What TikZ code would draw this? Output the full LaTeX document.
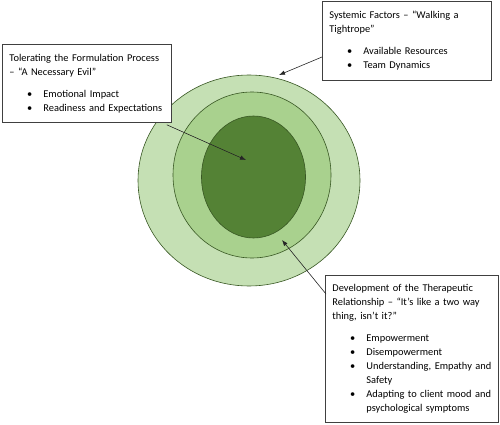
\documentclass[tikz,border=0pt]{standalone}
\usepackage{fontspec}
\setmainfont{Carlito}
\usepackage{enumitem}
\usetikzlibrary{calc}
\usetikzlibrary{arrows.meta}

\definecolor{ringout}{HTML}{C5E0B4}
\definecolor{ringmid}{HTML}{A9D18E}
\definecolor{ringin}{HTML}{548235}
\definecolor{ringedge}{HTML}{385723}
\definecolor{boxgray}{HTML}{404040}

\newcommand{\themelist}[1]{\begin{itemize}[leftmargin=34pt,labelsep=11pt,itemsep=0pt,parsep=0pt,topsep=8pt,partopsep=0pt]#1\end{itemize}}

\tikzset{
  themebox/.style={draw=boxgray, line width=0.8pt, fill=white, anchor=north west,
    inner xsep=7pt, inner ysep=6pt, align=left, font=\fontsize{10.4}{14}\selectfont},
  pointer/.style={draw=black!85, line width=0.6pt, -{Latex[length=6pt,width=4.5pt]}},
  ring/.style={draw=ringedge, line width=0.6pt}
}

\begin{document}
\begin{tikzpicture}[x=1pt,y=-1pt]

\useasboundingbox (0,0) rectangle (500,425);

\filldraw[ring,fill=ringout] (249,180.5) ellipse [x radius=111pt, y radius=105.5pt];
\filldraw[ring,fill=ringmid] (252,175) ellipse [x radius=79pt, y radius=83pt];
\filldraw[ring,fill=ringin] (253.5,177) ellipse [x radius=52pt, y radius=61pt];

\node[themebox, text width=155pt, minimum height=78pt] (tolbox) at (2,44) {Tolerating the Formulation Process\\
– “A Necessary Evil”
\themelist{\item Emotional Impact
\item Readiness and Expectations}};

\node[themebox, text width=155pt, minimum height=79pt] (sysbox) at (322,1) {Systemic Factors – “Walking a\\
Tightrope”
\themelist{\item Available Resources
\item Team Dynamics}};

\node[themebox, text width=159pt, minimum height=147pt] (devbox) at (325,275) {Development of the Therapeutic\\
Relationship – “It’s like a two way\\
thing, isn’t it?”
\themelist{\item Empowerment
\item Disempowerment
\item Understanding, Empathy and\\ Safety
\item Adapting to client mood and\\ psychological symptoms}};

\coordinate (tipA) at (246,160);
\coordinate (tipB) at (279,75);
\coordinate (tipC) at (282,240);

\draw[pointer] ($(tolbox.south east)+(-5,2)$) -- (tipA);
\draw[pointer] ($(sysbox.north west)+(0,56)$) -- (tipB);
\draw[pointer] ($(devbox.north west)+(1,19)$) -- (tipC);

\end{tikzpicture}
\end{document}
